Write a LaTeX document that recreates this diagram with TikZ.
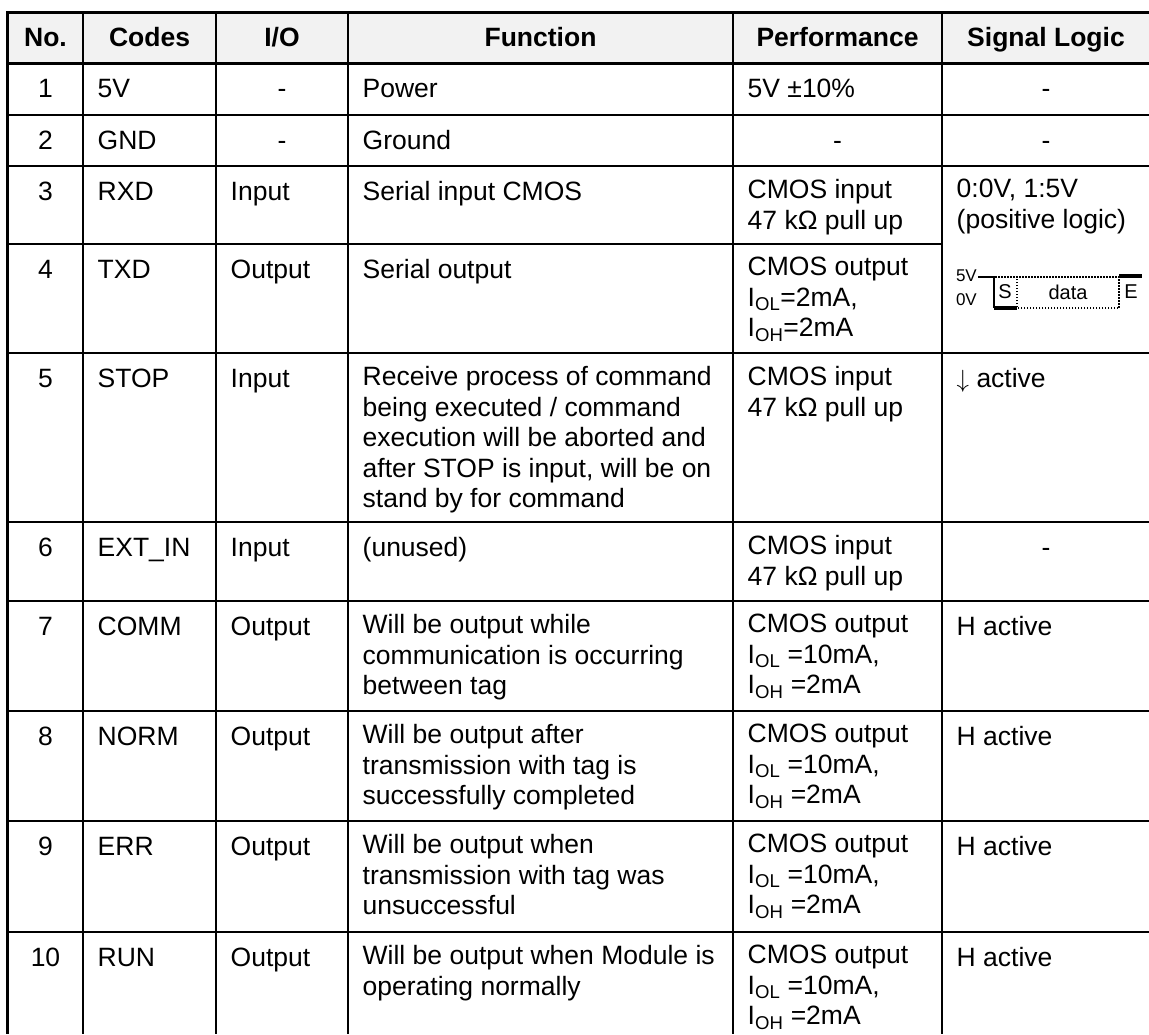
\documentclass[tikz,border=0pt]{standalone}
\usepackage{fontspec}
\setmainfont{Liberation Sans}
\newcommand\cellfont{\fontsize{26.5}{30.5}\selectfont}
\newcommand\wavefont{\fontsize{20}{22}\selectfont}
\newcommand\levelfont{\fontsize{17}{19}\selectfont}
\definecolor{headgray}{HTML}{F2F2F2}
\tikzset{
  cell/.style={anchor=north west, inner sep=0pt, align=left, font=\cellfont, execute at begin node=\strut},
  mid/.style={cell, anchor=north, align=center},
  head/.style={mid, font=\cellfont\bfseries},
  rule/.style={line width=2pt},
  border/.style={line width=3pt},
  wavetext/.style={inner sep=0pt, font=\wavefont},
  leveltext/.style={inner sep=0pt, anchor=east, font=\levelfont},
  dots/.style={line width=1.5pt, dash pattern=on 1.5pt off 1.5pt},
}
\begin{document}
\begin{tikzpicture}[x=1pt, y=-1pt]
  \useasboundingbox (0,0) rectangle (1149,1034);
  \fill[headgray] (9,13) rectangle (1149,63);
  % grid
  \draw[border] (6,12) -- (1149,12);
  \draw[border] (7.5,12) -- (7.5,1034);
  \draw[border] (9,63) -- (1149,63);
  \foreach \y in {114.5,166,353,522,601,711,821,932}
    \draw[rule] (9,\y) -- (1149,\y);
  \draw[rule] (9,244) -- (942,244); % signal cell spans rows 3 and 4
  \foreach \x in {83,216,348,733,942}
    \draw[rule] (\x,12) -- (\x,1034);

  % header
  \node[head] (hno) at (45.5,25.2) {No.};
  \node[head] (hcode) at (149.5,25.2) {Codes};
  \node[head] (hio) at (282,25.2) {I/O};
  \node[head] (hfn) at (540.5,25.2) {Function};
  \node[head] (hperf) at (837.5,25.2) {Performance};
  \node[head] (hsig) at (1046,25.2) {Signal Logic};

  % row 1
  \node[mid] (no1) at (45.5,76.2) {1};
  \node[cell] (code1) at (97.5,76.2) {5V};
  \node[mid] (io1) at (282,76.2) {-};
  \node[cell] (fn1) at (362.5,76.2) {Power};
  \node[cell] (perf1) at (747.5,76.2) {5V ±10\%};
  \node[mid] (sig1) at (1046,76.2) {-};

  % row 2
  \node[mid] (no2) at (45.5,127.7) {2};
  \node[cell] (code2) at (97.5,127.7) {GND};
  \node[mid] (io2) at (282,127.7) {-};
  \node[cell] (fn2) at (362.5,127.7) {Ground};
  \node[mid] (perf2) at (837.5,127.7) {-};
  \node[mid] (sig2) at (1046,127.7) {-};

  % row 3
  \node[mid] (no3) at (45.5,179.2) {3};
  \node[cell] (code3) at (97.5,179.2) {RXD};
  \node[cell] (io3) at (230.5,179.2) {Input};
  \node[cell] (fn3) at (362.5,179.2) {Serial input CMOS};
  \node[cell] (perf3) at (747.5,179.2) {CMOS input\\47 kΩ pull up};
  \node[cell] (sig3) at (956.5,179.2) {0:0V, 1:5V\\(positive logic)};

  % row 4
  \node[mid] (no4) at (45.5,257.2) {4};
  \node[cell] (code4) at (97.5,257.2) {TXD};
  \node[cell] (io4) at (230.5,257.2) {Output};
  \node[cell] (fn4) at (362.5,257.2) {Serial output};
  \node[cell] (perf4) at (747.5,257.2) {CMOS output\\I\textsubscript{OL}=2mA,\\I\textsubscript{OH}=2mA};

  % waveform
  \node[leveltext] (lvhi) at (977,276) {5V};
  \node[leveltext] (lvlo) at (977,300) {0V};
  \draw[line width=1.2pt] (978,277) -- (994,277) -- (994,308);
  \draw[line width=4pt] (994,308) -- (1017,308);
  \draw[dots] (995,277) -- (1119,277) -- (1119,308) -- (1017,308) -- (1017,277);
  \draw[line width=4pt] (1119,276) -- (1142,276);
  \node[wavetext] (wstart) at (1005,292) {S};
  \node[wavetext] (wdata) at (1068,292) {data};
  \node[wavetext] (wend) at (1131,292) {E};

  % row 5
  \node[mid] (no5) at (45.5,366.2) {5};
  \node[cell] (code5) at (97.5,366.2) {STOP};
  \node[cell] (io5) at (230.5,366.2) {Input};
  \node[cell] (fn5) at (362.5,366.2) {Receive process of command\\being executed / command\\execution will be aborted and\\after STOP is input, will be on\\stand by for command};
  \node[cell] (perf5) at (747.5,366.2) {CMOS input\\47 kΩ pull up};
  \node[cell] (sig5) at (956.5,366.2) {$\downarrow$ active};

  % row 6
  \node[mid] (no6) at (45.5,535.2) {6};
  \node[cell] (code6) at (97.5,535.2) {EXT\_IN};
  \node[cell] (io6) at (230.5,535.2) {Input};
  \node[cell] (fn6) at (362.5,535.2) {(unused)};
  \node[cell] (perf6) at (747.5,535.2) {CMOS input\\47 kΩ pull up};
  \node[mid] (sig6) at (1046,535.2) {-};

  % row 7
  \node[mid] (no7) at (45.5,614.2) {7};
  \node[cell] (code7) at (97.5,614.2) {COMM};
  \node[cell] (io7) at (230.5,614.2) {Output};
  \node[cell] (fn7) at (362.5,614.2) {Will be output while\\communication is occurring\\between tag};
  \node[cell] (perf7) at (747.5,614.2) {CMOS output\\I\textsubscript{OL} =10mA,\\I\textsubscript{OH} =2mA};
  \node[cell] (sig7) at (956.5,614.2) {H active};

  % row 8
  \node[mid] (no8) at (45.5,724.2) {8};
  \node[cell] (code8) at (97.5,724.2) {NORM};
  \node[cell] (io8) at (230.5,724.2) {Output};
  \node[cell] (fn8) at (362.5,724.2) {Will be output after\\transmission with tag is\\successfully completed};
  \node[cell] (perf8) at (747.5,724.2) {CMOS output\\I\textsubscript{OL} =10mA,\\I\textsubscript{OH} =2mA};
  \node[cell] (sig8) at (956.5,724.2) {H active};

  % row 9
  \node[mid] (no9) at (45.5,834.2) {9};
  \node[cell] (code9) at (97.5,834.2) {ERR};
  \node[cell] (io9) at (230.5,834.2) {Output};
  \node[cell] (fn9) at (362.5,834.2) {Will be output when\\transmission with tag was\\unsuccessful};
  \node[cell] (perf9) at (747.5,834.2) {CMOS output\\I\textsubscript{OL} =10mA,\\I\textsubscript{OH} =2mA};
  \node[cell] (sig9) at (956.5,834.2) {H active};

  % row 10
  \node[mid] (no10) at (45.5,945.2) {10};
  \node[cell] (code10) at (97.5,945.2) {RUN};
  \node[cell] (io10) at (230.5,945.2) {Output};
  \node[cell] (fn10) at (362.5,945.2) {Will be output when Module is\\operating normally};
  \node[cell] (perf10) at (747.5,945.2) {CMOS output\\I\textsubscript{OL} =10mA,\\I\textsubscript{OH} =2mA};
  \node[cell] (sig10) at (956.5,945.2) {H active};
\end{tikzpicture}
\end{document}
